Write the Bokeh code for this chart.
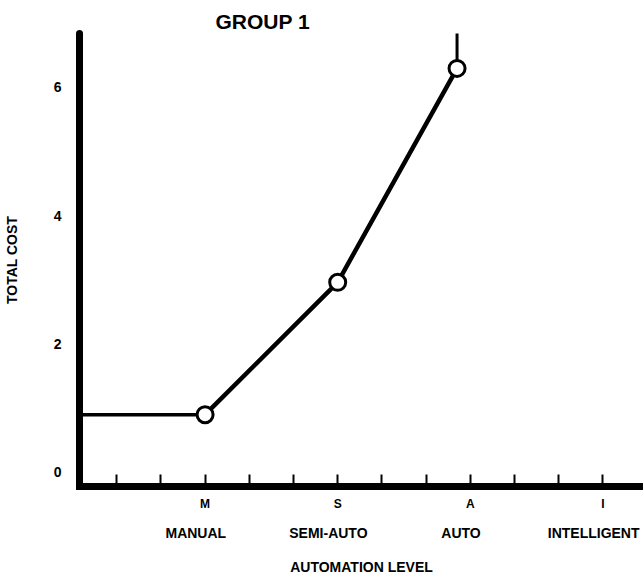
from bokeh.plotting import figure
from bokeh.models import Range1d, FixedTicker, LinearAxis, Title
from bokeh.embed import file_html
from bokeh.resources import INLINE

# ---- data ----
levels = ["M", "S", "A", "I"]
level_names = ["MANUAL", "SEMI-AUTO", "AUTO", "INTELLIGENT"]
level_pos = [1, 2, 3, 4]
cost_x = [1.0, 2.0, 2.9]
cost_y = [0.90, 2.96, 6.29]
lead_x = [0.0, 1.0]
lead_y = [0.90, 0.90]
tail_x = [2.9, 2.9]
tail_y = [6.29, 6.90]
y_ticks = [0, 2, 4, 6]

X_START, X_END = 0.053, 4.306
Y_START, Y_END = -0.218, 6.833
FONT = "Liberation Sans"

p = figure(width=643, height=581,
           x_range=Range1d(X_START, X_END), y_range=Range1d(Y_START, Y_END),
           x_axis_type=None, y_axis_type=None,
           output_backend="svg", toolbar_location=None,
           min_border_left=79, min_border_right=0,
           min_border_top=33, min_border_bottom=95)
p.outline_line_color = None
p.background_fill_color = "white"
p.border_fill_color = "white"

p.add_layout(Title(text="GROUP 1", align="left", offset=136, standoff=1,
                   text_font=FONT, text_font_style="bold",
                   text_font_size="21px", text_color="black"), "above")

minor = [i / 3 for i in range(1, 13) if i % 3]

ax1 = LinearAxis(ticker=FixedTicker(ticks=level_pos, minor_ticks=minor),
                 major_label_overrides=dict(zip(level_pos, levels)),
                 axis_line_width=7, axis_line_cap="square", axis_line_color="black",
                 major_tick_in=12, major_tick_out=0, minor_tick_in=12, minor_tick_out=0,
                 major_tick_line_width=2, minor_tick_line_width=2,
                 major_tick_line_color="black", minor_tick_line_color="black",
                 major_label_standoff=10,
                 major_label_text_font=FONT, major_label_text_font_style="bold",
                 major_label_text_font_size="12px", major_label_text_color="black")
p.add_layout(ax1, "below")

p.extra_x_ranges = {"names": Range1d(X_START + 0.07, X_END + 0.07)}
ax2 = LinearAxis(x_range_name="names", ticker=FixedTicker(ticks=level_pos, minor_ticks=[]),
                 major_label_overrides=dict(zip(level_pos, level_names)),
                 axis_line_color=None, major_tick_line_color=None, minor_tick_line_color=None,
                 major_label_standoff=5,
                 major_label_text_font=FONT, major_label_text_font_style="bold",
                 major_label_text_font_size="14px", major_label_text_color="black",
                 axis_label="AUTOMATION LEVEL", axis_label_standoff=15,
                 axis_label_text_font=FONT, axis_label_text_font_style="bold",
                 axis_label_text_font_size="14px", axis_label_text_color="black")
p.add_layout(ax2, "below")

ay = LinearAxis(ticker=FixedTicker(ticks=y_ticks, minor_ticks=[]),
                axis_line_width=7, axis_line_cap="round", axis_line_color="black",
                major_tick_in=0, major_tick_out=0, major_tick_line_color=None,
                minor_tick_line_color=None,
                major_label_standoff=18,
                major_label_text_font=FONT, major_label_text_font_style="bold",
                major_label_text_font_size="14px", major_label_text_color="black",
                axis_label="TOTAL COST", axis_label_standoff=31,
                axis_label_text_font=FONT, axis_label_text_font_style="bold",
                axis_label_text_font_size="14px", axis_label_text_color="black")
p.add_layout(ay, "left")

p.line(lead_x, lead_y, line_color="black", line_width=3.5)
p.line(cost_x, cost_y, line_color="black", line_width=4.5, line_join="round")
p.line(tail_x, tail_y, line_color="black", line_width=3)
p.scatter(cost_x, cost_y, marker="circle", size=16, fill_color="white",
          line_color="black", line_width=3)

open("out.html", "w").write(file_html(p, INLINE))
